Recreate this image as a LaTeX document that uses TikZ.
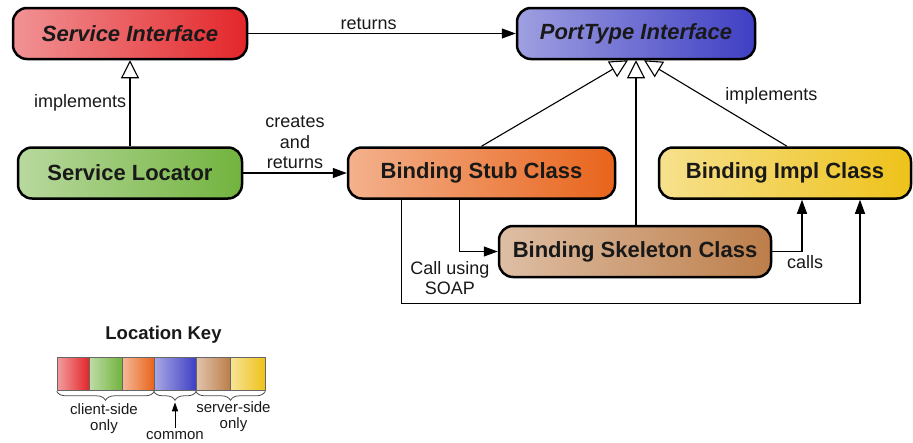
\documentclass[tikz,border=0pt]{standalone}
\usepackage{fontspec}
\setmainfont{Liberation Sans}
\usetikzlibrary{arrows.meta,decorations.pathreplacing}
\definecolor{client red}{HTML}{E3262A}
\definecolor{client green}{HTML}{72B33E}
\definecolor{client orange}{HTML}{E8641B}
\definecolor{common blue}{HTML}{3F3FC4}
\definecolor{server brown}{HTML}{BD7E4A}
\definecolor{server yellow}{HTML}{EEC21A}
\colorlet{text color}{black!90}
\tikzset{
    x={1pt},
    y={-1pt},
    class box/.style={
        draw=black, line width={2.5pt},
        rounded corners={14pt},
        left color={#1!50!white}, right color={#1},
        font={\fontsize{22}{26}\selectfont\bfseries},
        text={text color},
        minimum height={51},
        inner sep=0pt,
    },
    interface box/.style={
        class box={#1},
        font={\fontsize{22}{26}\selectfont\bfseries\itshape},
    },
    edge label/.style={
        font={\fontsize{18}{20.5}\selectfont},
        text={text color},
        align=center,
    },
    flow/.style={
        draw=black, line width={1.1pt},
        -{Triangle[length=14pt,width=10pt]},
    },
    realizes/.style={
        draw=black, line width={1.1pt},
        -{Triangle[open,length=18pt,width=18pt,fill=white]},
    },
    key swatch/.style={
        draw=black!60, line width={0.6pt},
        left color={#1!45!white}, right color={#1},
        minimum height={33},
        inner sep=0pt,
    },
    key brace/.style={
        draw=black!70, line width={0.8pt},
        decorate, decoration={brace, mirror, amplitude=9pt},
    },
    key label/.style={
        font={\fontsize{15}{16}\selectfont},
        text={text color},
        align=center,
    },
}

\begin{document}
\begin{tikzpicture}
\useasboundingbox (0,0) rectangle (913,442);
% boxes
\node[interface box={client red}, minimum width={234}] (svc) at (130,33.5) {Service Interface};
\node[interface box={common blue}, minimum width={238}] (port) at (636,33.5) {PortType Interface};
\node[class box={client green}, minimum width={224}] (loc) at (130,173) {Service Locator};
\node[class box={client orange}, minimum width={267}] (stub) at (481.5,173) {Binding Stub Class};
\node[class box={server yellow}, minimum width={252}] (impl) at (785,173) {Binding Impl Class};
\node[class box={server brown}, minimum width={272}] (skel) at (635,251.5) {Binding Skeleton Class};
% connectors
\draw[flow] (svc) -- node[edge label, above, pos=0.45] {returns} (port);
\draw[flow] (loc) -- node[edge label, above] {creates\\and\\returns} (stub);
\draw[realizes] (loc.north) -- node[edge label, left] {implements} (svc.south);
\draw[realizes] (stub.north) -- ([xshift=-8]port.south);
\draw[realizes] ([xshift=2]impl.north) -- node[edge label, pos=0.5, anchor=south west, xshift=6, yshift=-5] {implements} ([xshift=8]port.south);
\draw[realizes] ([xshift=1]skel.north) -- ([xshift=1]skel.north |- port.south);
\draw[flow] ([xshift=-22]stub.south) |- (skel.west);
\coordinate (soap corner) at ([xshift=-80,yshift=-104]stub.south);
\draw[flow] ([xshift=-80]stub.south) -- (soap corner) node[edge label, anchor=south west, xshift=5, yshift=5] {Call using\\SOAP} -| ([xshift=75]impl.south);
\draw[flow] (skel.east) -| node[edge label, pos=0.5, below, xshift=3] {calls} ([xshift=17]impl.south);
% location key
\node[font={\fontsize{18.5}{20}\selectfont\bfseries}, text={text color}] (key title) at (163.5,335) {Location Key};
\node[key swatch={client red}, minimum width={32}] (key red) at (73,373.5) {};
\node[key swatch={client green}, minimum width={33}] (key green) at (105.5,373.5) {};
\node[key swatch={client orange}, minimum width={32}] (key orange) at (138,373.5) {};
\node[key swatch={common blue}, minimum width={42}] (key blue) at (175,373.5) {};
\node[key swatch={server brown}, minimum width={34}] (key brown) at (213,373.5) {};
\node[key swatch={server yellow}, minimum width={35}] (key yellow) at (247.5,373.5) {};
\draw[key brace] ([yshift=-1]key red.south west) -- ([yshift=-1]key orange.south east);
\draw[key brace] ([yshift=-1]key blue.south west) -- ([yshift=-1]key blue.south east);
\draw[key brace] ([yshift=-1]key brown.south west) -- ([yshift=-1]key yellow.south east);
\node[key label] (client label) at (104,419) {client-side\\only};
\node[key label] (server label) at (233.5,417) {server-side\\only};
\node[key label] (common label) at (175,436) {common};
\draw[black, line width={1pt}, -{Triangle[length=9pt,width=6pt]}] (common label.north) -- ([yshift=-12]key blue.south);
\end{tikzpicture}
\end{document}
